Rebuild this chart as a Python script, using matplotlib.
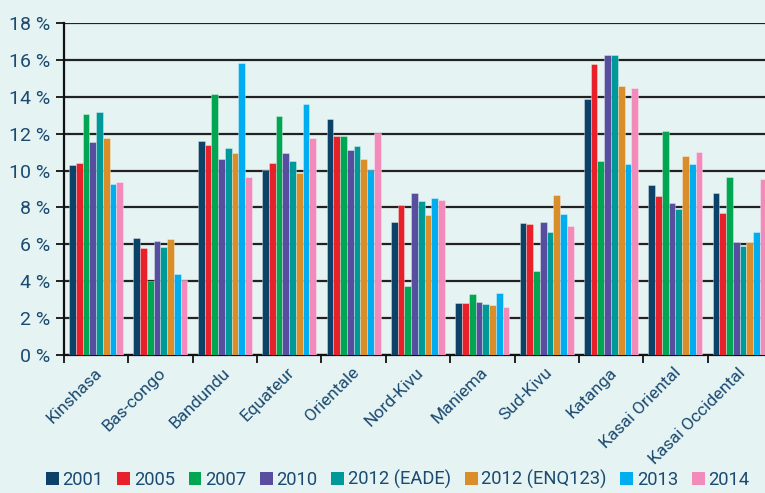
import matplotlib.pyplot as plt
from matplotlib.patches import Patch
import numpy as np

provinces = ['Kinshasa', 'Bas-congo', 'Bandundu', 'Equateur', 'Orientale', 'Nord-Kivu',
             'Maniema', 'Sud-Kivu', 'Katanga', 'Kasai Oriental', 'Kasai Occidental']
series = ['2001', '2005', '2007', '2010', '2012 (EADE)', '2012 (ENQ123)', '2013', '2014']
colors = ['#0d4268', '#e8202a', '#00a651', '#574ea0', '#00999a', '#d98e2a', '#00aeef', '#f28bba']

v2001 = [10.3, 6.34, 11.58, 10.02, 12.78, 7.19, 2.80, 7.15, 13.87, 9.21, 8.77]
v2005 = [10.4, 5.80, 11.39, 10.40, 11.90, 8.11, 2.80, 7.11, 15.80, 8.60, 7.71]
v2007 = [13.06, 4.01, 14.16, 12.98, 11.85, 3.75, 3.29, 4.57, 10.51, 12.12, 9.66]
v2010 = [11.54, 6.18, 10.62, 10.94, 11.09, 8.81, 2.87, 7.20, 16.27, 8.25, 6.12]
v2012_eade = [13.15, 5.87, 11.25, 10.51, 11.32, 8.33, 2.76, 6.68, 16.27, 7.93, 5.92]
v2012_enq = [11.77, 6.28, 10.93, 9.88, 10.62, 7.57, 2.71, 8.68, 14.61, 10.80, 6.12]
v2013 = [9.25, 4.37, 15.83, 13.61, 10.02, 8.49, 3.38, 7.64, 10.38, 10.35, 6.66]
v2014 = [9.37, 4.05, 9.64, 11.79, 12.06, 8.40, 2.60, 6.99, 14.48, 11.00, 9.53]
values = [v2001, v2005, v2007, v2010, v2012_eade, v2012_enq, v2013, v2014]

yticks = list(range(0, 20, 2))

bg = '#e5f3f2'
txt = '#1b4a72'
plt.rcParams['font.family'] = ['Roboto', 'DejaVu Sans']

fig = plt.figure(figsize=(7.65, 4.93), dpi=100, facecolor=bg)
ax = fig.add_axes([0.0837, 0.2799, 0.9255, 0.6734])
ax.set_facecolor(bg)

w = 0.105
start = 0.078
x = np.arange(len(provinces))
for j, (vals, c) in enumerate(zip(values, colors)):
    ax.bar(x + start + w * (j + 0.5), vals, width=w, color=c,
           edgecolor=(1, 1, 1, 0.35), linewidth=0.7, zorder=3)

ax.set_xlim(0, len(provinces))
ax.set_ylim(0, 18)
ax.set_yticks(yticks)
ax.set_yticklabels([f'{t} %' for t in yticks], fontsize=14, color=txt)
ax.yaxis.grid(True, color='#222222', linewidth=1.6, zorder=1)
ax.set_axisbelow(True)
ax.tick_params(axis='y', length=6, width=1.4, pad=4, color='#222222')

ax.set_xticks(np.arange(len(provinces) + 1), minor=True)
ax.set_xticks(x + 0.55)
ax.set_xticklabels(provinces, rotation=45, ha='right', va='center',
                   rotation_mode='anchor', fontsize=12.5, color=txt)
ax.tick_params(axis='x', which='major', length=0, pad=11)
ax.tick_params(axis='x', which='minor', length=6, width=1.4, color='#222222')

for s in ['top', 'right']:
    ax.spines[s].set_visible(False)
for s in ['left', 'bottom']:
    ax.spines[s].set_linewidth(1.6)
    ax.spines[s].set_color('#111111')

handles = [Patch(facecolor=c, label=s) for s, c in zip(series, colors)]
fig.legend(handles=handles, loc='lower center', bbox_to_anchor=(0.52, -0.025), ncol=8,
           frameon=False, fontsize=13.2, handlelength=0.7, handleheight=0.7,
           handletextpad=0.2, columnspacing=0.75, labelcolor=txt)

fig.savefig('out.png', dpi=100, facecolor=bg)
